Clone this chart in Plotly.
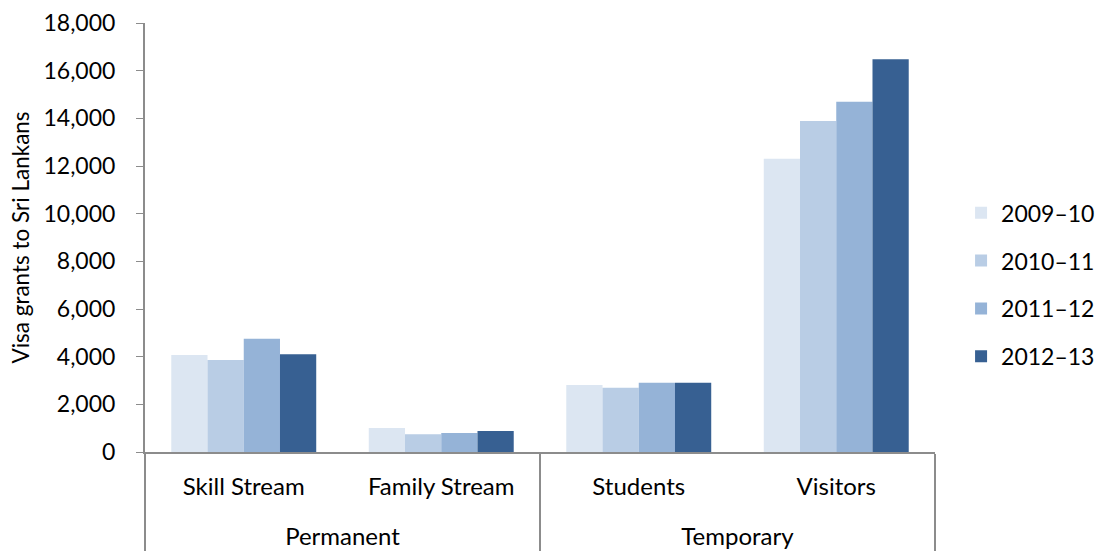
import plotly.graph_objects as go

groups = ["Permanent", "Permanent", "Temporary", "Temporary"]
categories = ["Skill Stream", "Family Stream", "Students", "Visitors"]
years = ["2009–10", "2010–11", "2011–12", "2012–13"]
v_2009_10 = [4070, 1010, 2810, 12300]
v_2010_11 = [3860, 740, 2700, 13890]
v_2011_12 = [4750, 800, 2910, 14700]
v_2012_13 = [4100, 880, 2910, 16480]
series = [v_2009_10, v_2010_11, v_2011_12, v_2012_13]
colors = ["#DCE6F2", "#B9CDE5", "#95B3D7", "#376092"]
y_ticks = list(range(0, 18001, 2000))

FONT = "Lato, Carlito, Calibri, sans-serif"

# child labels padded with an extra line so the parent row sits lower
child_labels = [c + "<br> " for c in categories]

fig = go.Figure()
for i, (name, vals) in enumerate(zip(years, series)):
    fig.add_trace(go.Bar(
        x=[groups, child_labels], y=vals, name=name,
        marker=dict(color=colors[i], line=dict(width=0)),
        legendgroup=name,
    ))

fig.update_layout(
    width=1097, height=551,
    margin=dict(l=145, r=162, t=23, b=99, autoexpand=False),
    barmode="group", bargap=0.266, bargroupgap=0,
    plot_bgcolor="white", paper_bgcolor="white",
    font=dict(family=FONT, size=22, color="black"),
    legend=dict(x=1.033, y=0.39, xanchor="left", yanchor="middle",
                font=dict(size=23), tracegroupgap=15,
                itemwidth=30),
    showlegend=True,
)
fig.update_yaxes(
    range=[0, 18000], tickvals=y_ticks,
    tickformat=",d", showgrid=False, zeroline=False,
    showline=True, linecolor="#8C8C8C", linewidth=2,
    ticks="outside", ticklen=7, tickcolor="#8C8C8C",
    ticklabelstandoff=16,
    title=dict(text="Visa grants to Sri Lankans", font=dict(size=22.5), standoff=8),
    tickfont=dict(size=23), automargin=False,
)
fig.update_xaxes(
    type="multicategory",
    showline=True, linecolor="#8C8C8C", linewidth=2,
    showdividers=True, dividercolor="#8C8C8C", dividerwidth=2,
    ticks="", tickfont=dict(size=24), showgrid=False,
    ticklabelstandoff=12, automargin=False,
)

fig.write_html("out.html", config={"displayModeBar": False},
               post_script="document.body.style.margin='0';document.body.style.padding='0';")
